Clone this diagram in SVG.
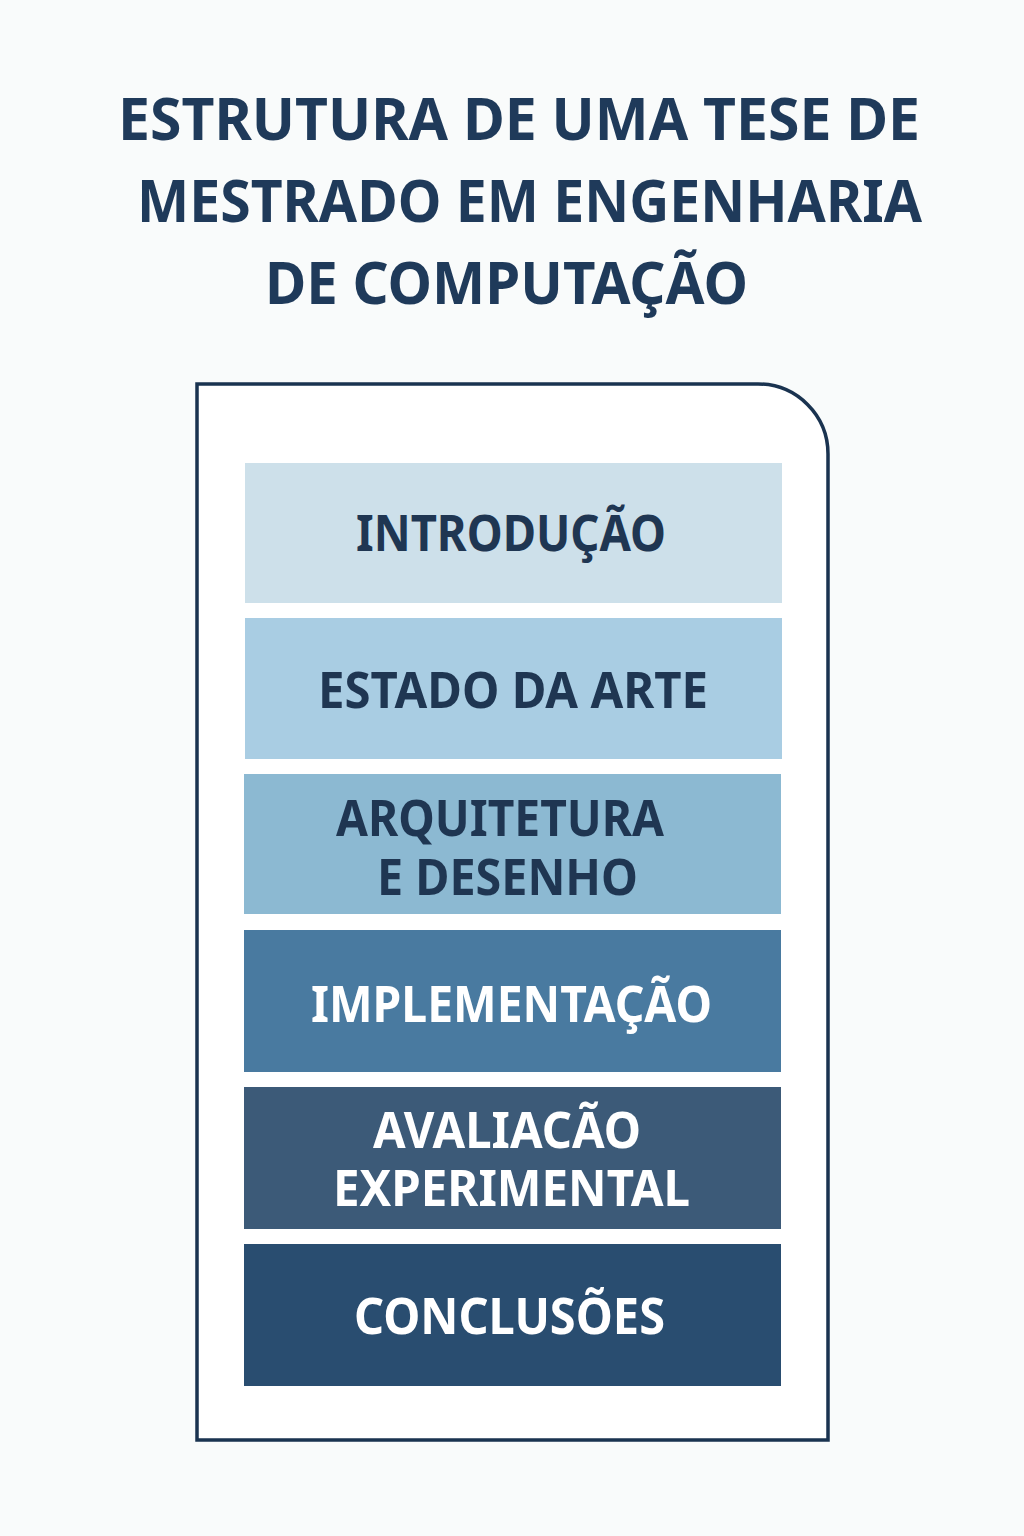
<svg xmlns="http://www.w3.org/2000/svg" width="1024" height="1536" viewBox="0 0 1024 1536">
<style>
.t{font-family:"Noto Sans","Open Sans","DejaVu Sans",sans-serif;font-weight:700;fill:#1f3a5a}
.lbl{font-family:"Noto Sans","Open Sans","DejaVu Sans",sans-serif;font-weight:700;font-size:50px}
.dk{fill:#1f3652}
.wh{fill:#ffffff}
</style>
<rect width="1024" height="1536" fill="#f9fbfb"/>
<g id="title">
<text class="t" font-size="60" x="118" y="140" textLength="802" lengthAdjust="spacingAndGlyphs">ESTRUTURA DE UMA TESE DE</text>
<text class="t" font-size="60" x="137" y="222" textLength="785" lengthAdjust="spacingAndGlyphs">MESTRADO EM ENGENHARIA</text>
<text class="t" font-size="60" x="265" y="304" textLength="483" lengthAdjust="spacingAndGlyphs">DE COMPUTAÇÃO</text>
</g>
<g id="frame">
<path d="M197,384 H758 A70,70 0 0 1 828,454 V1440 H197 Z" fill="#ffffff" stroke="#1a3350" stroke-width="3.5"/>
</g>
<g id="introducao">
<rect x="245" y="463" width="537" height="140" fill="#cde0ea"/>
<text class="lbl dk" x="356" y="551" textLength="310" lengthAdjust="spacingAndGlyphs">INTRODUÇÃO</text>
</g>
<g id="estado-da-arte">
<rect x="245" y="618" width="537" height="141" fill="#a9cde3"/>
<text class="lbl dk" x="318" y="708" textLength="390" lengthAdjust="spacingAndGlyphs">ESTADO DA ARTE</text>
</g>
<g id="arquitetura">
<rect x="244" y="774" width="537" height="140" fill="#8cb9d2"/>
<text class="lbl dk" x="336" y="836" textLength="328" lengthAdjust="spacingAndGlyphs">ARQUITETURA</text>
<text class="lbl dk" x="377" y="895" textLength="261" lengthAdjust="spacingAndGlyphs">E DESENHO</text>
</g>
<g id="implementacao">
<rect x="244" y="930" width="537" height="142" fill="#497aa0"/>
<text class="lbl wh" x="311" y="1022" textLength="401" lengthAdjust="spacingAndGlyphs">IMPLEMENTAÇÃO</text>
</g>
<g id="avaliacao">
<rect x="244" y="1087" width="537" height="142" fill="#3c5a78"/>
<text class="lbl wh" x="373" y="1148" textLength="268" lengthAdjust="spacingAndGlyphs">AVALIACÃO</text>
<text class="lbl wh" x="333" y="1206" textLength="357" lengthAdjust="spacingAndGlyphs">EXPERIMENTAL</text>
</g>
<g id="conclusoes">
<rect x="244" y="1244" width="537" height="142" fill="#294d70"/>
<text class="lbl wh" x="354" y="1334" textLength="311" lengthAdjust="spacingAndGlyphs">CONCLUSÕES</text>
</g>
<g id="connectors"/>
</svg>
